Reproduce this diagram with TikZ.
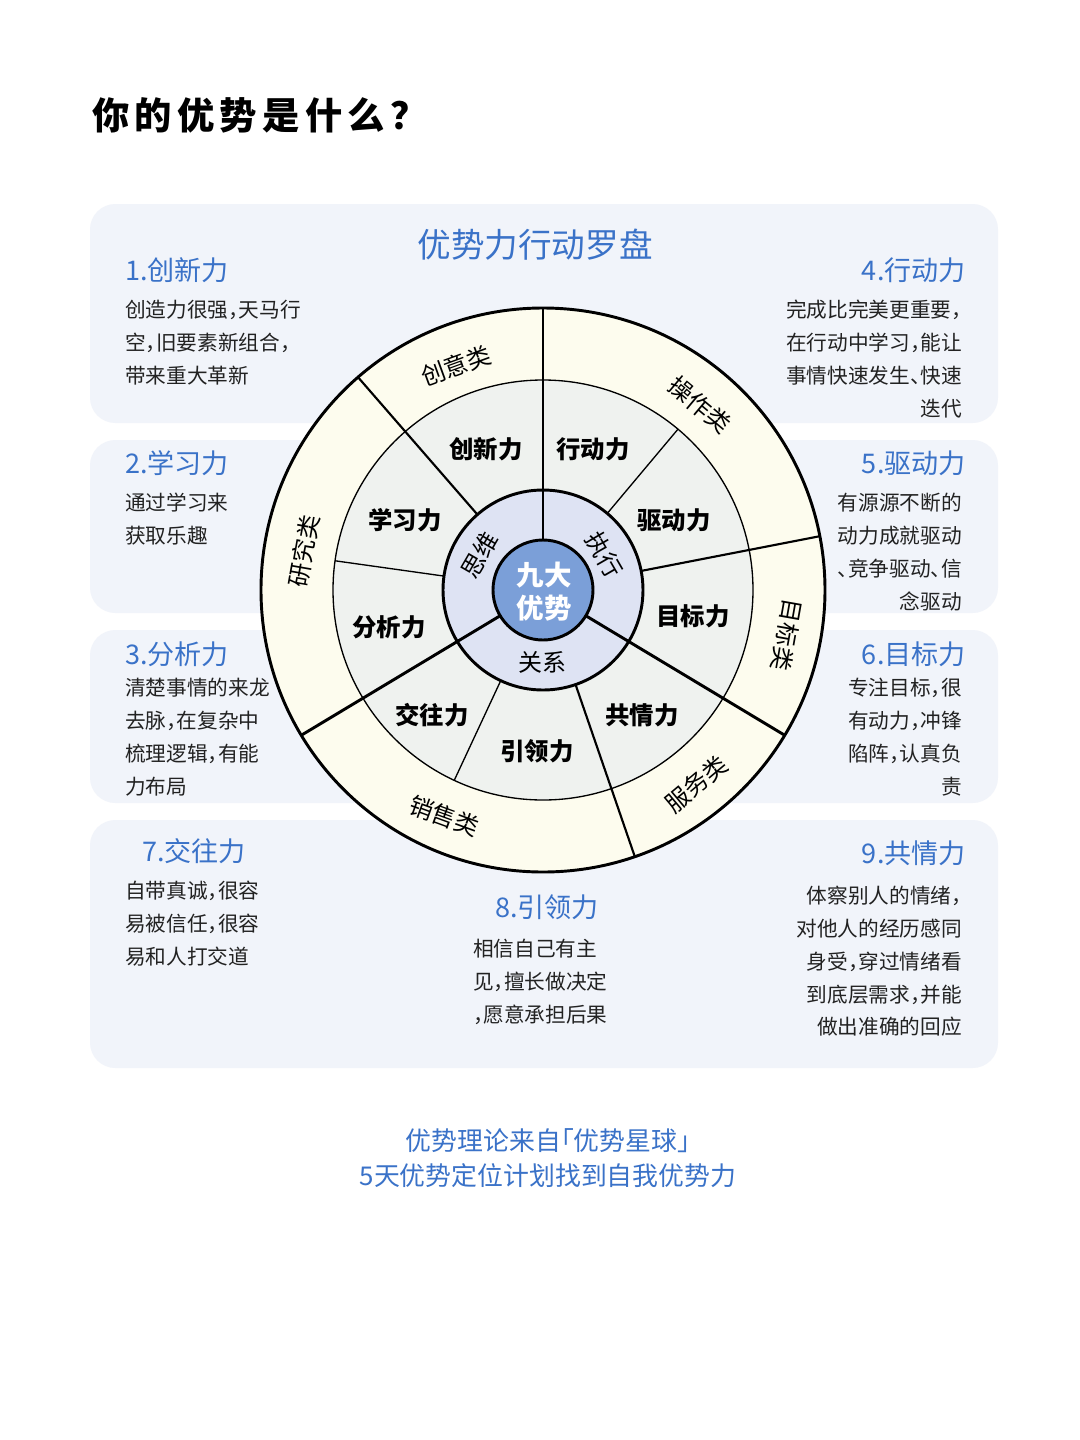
\documentclass[tikz,border=0pt]{standalone}
\usepackage{fontspec}
\setmainfont{Noto Sans CJK SC}[RawFeature=+halt]
\definecolor{panelbg}{HTML}{F1F4FA}
\definecolor{ringcat}{HTML}{FDFCEE}
\definecolor{ringskill}{HTML}{EFF2EF}
\definecolor{ringcore}{HTML}{DEE3F3}
\definecolor{hubblue}{HTML}{7B9FD8}
\definecolor{headblue}{HTML}{3A72C8}
\definecolor{bodyink}{HTML}{222222}

\begin{document}
\begin{tikzpicture}[
  x=0.75pt,
  y=-0.75pt,
  every node/.style={inner sep=0pt, text=bodyink},
  panel/.style={fill=panelbg, rounded corners=19pt},
  titletxt/.style={font=\bfseries\fontsize{28}{32}\selectfont\addfontfeature{LetterSpace=14}, text=black},
  cmptxt/.style={font=\fontsize{25.2}{30}\selectfont, text=headblue},
  headtxt/.style={font=\fontsize{20.3}{24}\selectfont, text=headblue},
  bodytxt/.style={font=\fontsize{15.5}{24.6}\selectfont},
  foottxt/.style={font=\fontsize{19.4}{26.3}\selectfont, text=headblue, align=center},
  boldline/.style={black, line width=2.2pt},
  catline/.style={black, line width=1.6pt},
  thinline/.style={black, line width=1.0pt},
  skilllbl/.style={font=\bfseries\fontsize{18.3}{22}\selectfont, text=black},
  catlbl/.style={font=\fontsize{18}{22}\selectfont, text=black},
  corelbl/.style={font=\fontsize{18}{22}\selectfont, text=black},
  hublbl/.style={font=\bfseries\fontsize{20.6}{24.7}\selectfont, text=white, align=center}
]
  % ---- page ----
  \fill[white] (0,0) rectangle (1080,1440);
  \useasboundingbox (0,0) rectangle (1080,1440);

  % ---- panels ----
  \foreach \ya/\yb in {204/423, 440/613, 630/803, 820/1068}
    \fill[panel] (90,\ya) rectangle (998,\yb);

  % ---- headings ----
  \node[titletxt, anchor=west] (ttl) at (92,115) {你的优势是什么？};
  \node[cmptxt] (cmp) at (535,245) {优势力行动罗盘};

  % ---- left column ----
  \node[headtxt, anchor=west] (h1) at (125,270) {1.创新力};
  \node[bodytxt, anchor=north west, align=left] (b1) at (125,300)
    {创造力很强，天马行\\空，旧要素新组合，\\带来重大革新};
  \node[headtxt, anchor=west] (h2) at (125,463) {2.学习力};
  \node[bodytxt, anchor=north west, align=left] (b2) at (125,493)
    {通过学习来\\获取乐趣};
  \node[headtxt, anchor=west] (h3) at (125,654) {3.分析力};
  \node[bodytxt, anchor=north west, align=left] (b3) at (125,678)
    {清楚事情的来龙\\去脉，在复杂中\\梳理逻辑，有能\\力布局};
  \node[headtxt, anchor=west] (h7) at (142,851) {7.交往力};
  \node[bodytxt, anchor=north west, align=left] (b7) at (125,881)
    {自带真诚，很容\\易被信任，很容\\易和人打交道};

  % ---- right column ----
  \node[headtxt, anchor=east] (h4) at (966,270) {4.行动力};
  \node[bodytxt, anchor=north east, align=right] (b4) at (962,300)
    {完成比完美更重要，\\在行动中学习，能让\\事情快速发生、快速\\迭代};
  \node[headtxt, anchor=east] (h5) at (966,463) {5.驱动力};
  \node[bodytxt, anchor=north east, align=right] (b5) at (962,493)
    {有源源不断的\\动力成就驱动\\、竞争驱动、信\\念驱动};
  \node[headtxt, anchor=east] (h6) at (966,654) {6.目标力};
  \node[bodytxt, anchor=north east, align=right] (b6) at (962,678)
    {专注目标，很\\有动力，冲锋\\陷阵，认真负\\责};
  \node[headtxt, anchor=east] (h9) at (966,853) {9.共情力};
  \node[bodytxt, anchor=north east, align=right] (b9) at (962,886)
    {体察别人的情绪，\\对他人的经历感同\\身受，穿过情绪看\\到底层需求，并能\\做出准确的回应};

  % ---- middle ----
  \node[headtxt] (h8) at (547,907) {8.引领力};
  \node[bodytxt, anchor=north west, align=left] (b8) at (473,939)
    {相信自己有主\\见，擅长做决定\\，愿意承担后果};

  % ---- wheel ----
  \begin{scope}[shift={(543,590)}, y=0.75pt]
    \fill[ringcat] (0,0) circle (282);
    \fill[ringskill] (0,0) circle (210);
    \fill[ringcore] (0,0) circle (100);
    \foreach \a in {50,172,245}
      \draw[thinline] (\a:100) -- (\a:210);
    \foreach \a in {11,131,289}
      \draw[catline] (\a:100) -- (\a:282);
    \foreach \a in {90,211,329}
      \draw[boldline] (\a:50) -- (\a:282);
    \draw[thinline] (0,0) circle (210);
    \draw[boldline] (0,0) circle (100);
    \draw[boldline] (0,0) circle (282);
    \filldraw[boldline, fill=hubblue] (0,0) circle (50);
  \end{scope}

  % ---- wheel labels ----
  \node[hublbl] (hub) at (544,592) {九大\\优势};
  \node[corelbl, rotate=60] (swe) at (480,555) {思维};
  \node[corelbl, rotate=-60] (zxi) at (604,555) {执行};
  \node[corelbl] (gxi) at (542,662) {关系};

  \foreach \nm/\px/\py/\lab in {cx/486/449/创新力, xd/593/449/行动力,
      qd/674/520/驱动力, mb/693/616/目标力, gq/642/715/共情力,
      yl/537/751/引领力, jw/432/715/交往力, fx/389/627/分析力,
      xx/405/520/学习力}
    \node[skilllbl] (\nm) at (\px,\py) {\lab};

  \foreach \nm/\px/\py/\rot/\lab in {cy/456/366/20/创意类, cz/700/405/-40/操作类,
      yj/304/551/80/研究类, mbl/787/635/-100/目标类,
      xs/444/816/-20/销售类, fw/696/784/40/服务类}
    \node[catlbl, rotate=\rot] (\nm) at (\px,\py) {\lab};

  % ---- footer ----
  \node[foottxt] (ft) at (548,1158) {优势理论来自「优势星球」\\5天优势定位计划找到自我优势力};
\end{tikzpicture}
\end{document}
